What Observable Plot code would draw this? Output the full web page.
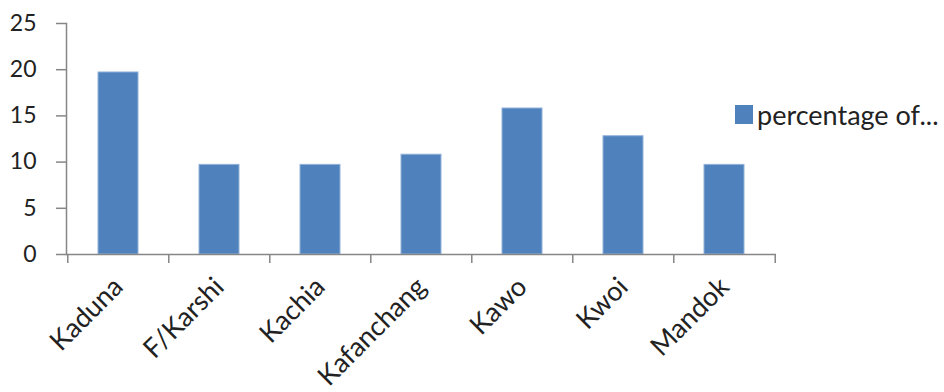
<!DOCTYPE html>
<html>
<head>
<meta charset="utf-8">
<script src="https://cdn.jsdelivr.net/npm/d3@7"></script>
<script src="https://cdn.jsdelivr.net/npm/@observablehq/plot@0.6"></script>
<style>
  html, body { margin: 0; padding: 0; background: #fff; }
  #wrap { position: relative; width: 944px; height: 392px; font-family: Lato, "Open Sans", sans-serif; }
  #legend { position: absolute; left: 735px; top: 98px; display: flex; align-items: center; font-size: 27px; color: #222; white-space: nowrap; }
  #legend .sw { width: 18px; height: 19px; background: #4F81BD; margin-right: 4px; }
</style>
</head>
<body>
<div id="wrap">
  <div id="chart"></div>
  <div id="legend"><div class="sw"></div><span id="legend-label"></span></div>
</div>
<script>
const categories = ["Kaduna", "F/Karshi", "Kachia", "Kafanchang", "Kawo", "Kwoi", "Mandok"];
const values = [19.7, 9.7, 9.7, 10.8, 15.8, 12.8, 9.7];
const seriesName = "percentage of...";
const yTicks = [0, 5, 10, 15, 20, 25];

const data = categories.map((c, i) => ({category: c, value: values[i]}));

const W = 944, H = 392;
const mL = 66, mR = 168, mT = 23, mB = 138;
const step = (W - mL - mR) / categories.length;
const axisColor = "#868686";
const textColor = "#222";

const chart = Plot.plot({
  width: W,
  height: H,
  marginLeft: mL,
  marginRight: mR,
  marginTop: mT,
  marginBottom: mB,
  style: {fontFamily: "Lato, 'Open Sans', sans-serif", fontSize: "22px", color: textColor, background: "#fff"},
  x: {domain: categories, paddingInner: 0.6, paddingOuter: 0.3, axis: null},
  y: {domain: [0, 25], ticks: yTicks, axis: null},
  marks: [
    Plot.barY(data, {x: "category", y: "value", fill: "#4F81BD", stroke: "#93b3da", strokeWidth: 1}),
    // y axis line and ticks
    Plot.frame({anchor: "left", stroke: axisColor, strokeWidth: 1.5}),
    Plot.axisY({ticks: yTicks, tickSize: 10, tickPadding: 20, stroke: axisColor, strokeWidth: 1.5, fill: textColor, fontSize: 23, label: null}),
    // x axis line
    Plot.ruleY([0], {stroke: axisColor, strokeWidth: 1.5}),
    // x tick marks at category boundaries
    Plot.ruleX(categories, {x: d => d, y1: 0, y2: 0, dx: -step / 2, insetBottom: -9, stroke: axisColor, strokeWidth: 1.5}),
    Plot.ruleX([categories[categories.length - 1]], {x: d => d, y1: 0, y2: 0, dx: step / 2, insetBottom: -9, stroke: axisColor, strokeWidth: 1.5}),
    // x labels
    Plot.text(categories, {x: d => d, y: () => 0, text: d => d, rotate: -45, textAnchor: "end", lineAnchor: "middle", dx: 0, dy: 28, fill: textColor, fontSize: 27})
  ]
});
document.getElementById("chart").appendChild(chart);
document.getElementById("legend-label").textContent = seriesName;
</script>
</body>
</html>
